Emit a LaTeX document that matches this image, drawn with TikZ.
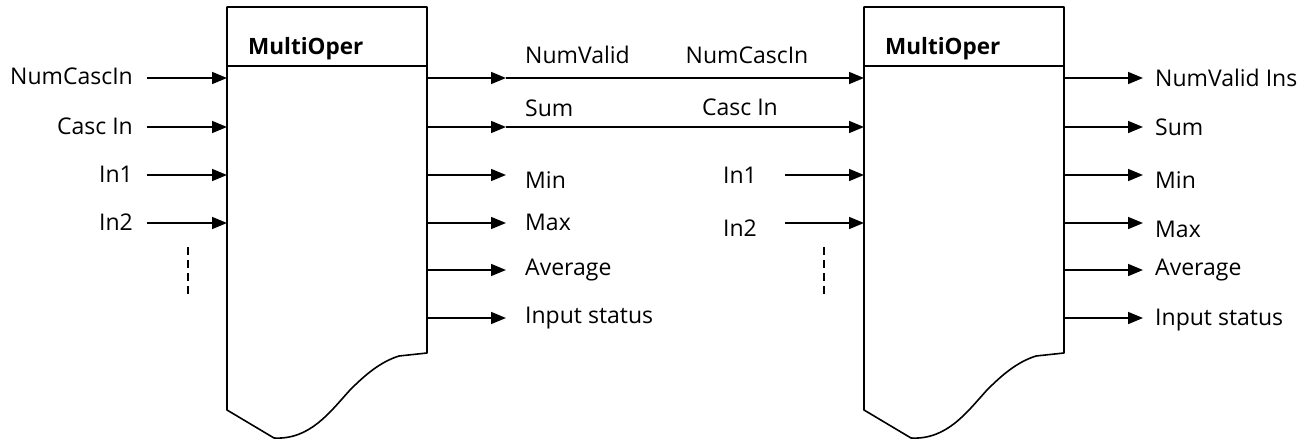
\documentclass[tikz,border=0pt]{standalone}
\usepackage{fontspec}
\setmainfont[Ligatures=NoCommon]{Open Sans}
\usetikzlibrary{arrows.meta}
\begin{document}
\begin{tikzpicture}[x=1pt,y=-1pt,
  blk/.style={line width=1.6pt,fill=white},
  conn/.style={line width=1.6pt,-{Triangle[length=15pt,width=12pt]}},
  plain/.style={line width=1.6pt},
  lbl/.style={font=\fontsize{23}{27}\selectfont,inner sep=0pt},
  ttl/.style={font=\fontsize{22.5}{27}\selectfont\bfseries,inner sep=0pt,anchor=base west},
  dots/.style={line width=1.2pt,dash pattern=on 8pt off 5pt}]
\useasboundingbox (0,0) rectangle (1312,442);
% blocks
\foreach \dx/\nm in {0/A,637/B}{
  \begin{scope}[xshift=\dx]
    \draw[blk,line join=round] (227,7) -- (427,7) -- (427,353) -- (399,356)
      .. controls (380,362) and (365,375) .. (350,390)
      .. controls (330,412) and (310,440) .. (274,438)
      -- (227,410) -- cycle;
    \draw[plain] (227,66) -- (427,66);
  \end{scope}
}
\node[ttl] (tA) at (248,54) {MultiOper};
\node[ttl] (tB) at (885,54) {MultiOper};
% ports of block A
\foreach \n/\y in {1/78,2/127,3/175,4/223}{
  \coordinate (Ai\n) at (227,\y);
  \coordinate (As\n) at (147,\y);
}
\foreach \n/\y in {1/78,2/127,3/175,4/223,5/270,6/318}{
  \coordinate (Ao\n) at (427,\y);
  \coordinate (At\n) at (506,\y);
}
% ports of block B
\foreach \n/\y in {1/78,2/127,3/175,4/223}{
  \coordinate (Bi\n) at (864,\y);
}
\coordinate (Bs3) at (785,175);
\coordinate (Bs4) at (785,223);
\foreach \n/\y in {1/78,2/127,3/175,4/223,5/270,6/318}{
  \coordinate (Bo\n) at (1064,\y);
  \coordinate (Bt\n) at (1143,\y);
}
% input labels A
\node[lbl,anchor=east] (lA1) at (133,76) {NumCascIn};
\node[lbl,anchor=east] (lA2) at (133,126) {Casc In};
\node[lbl,anchor=east] (lA3) at (133,174) {In1};
\node[lbl,anchor=east] (lA4) at (133,222) {In2};
\foreach \n in {1,2,3,4}{\draw[conn] (As\n) -- (Ai\n);}
\draw[dots] (188,247) -- (188,296);
% outputs A
\foreach \n in {1,...,6}{\draw[conn] (Ao\n) -- (At\n);}
\draw[conn] (At1) -- (Bi1);
\draw[conn] (At2) -- (Bi2);
\node[lbl,anchor=west] (oA1) at (525,55) {NumValid};
\node[lbl,anchor=west] (oA2) at (525,108) {Sum};
\node[lbl,anchor=west] (oA3) at (525,180) {Min};
\node[lbl,anchor=west] (oA4) at (525,222) {Max};
\node[lbl,anchor=west] (oA5) at (525,270) {Average};
\node[lbl,anchor=west] (oA6) at (525,318) {Input status};
% inputs B
\node[lbl] (lB1) at (747,55) {NumCascIn};
\node[lbl] (lB2) at (740,107) {Casc In};
\node[lbl] (lB3) at (740,175) {In1};
\node[lbl] (lB4) at (740,228) {In2};
\draw[conn] (Bs3) -- (Bi3);
\draw[conn] (Bs4) -- (Bi4);
\draw[dots] (824,247) -- (824,296);
% outputs B
\foreach \n in {1,...,6}{\draw[conn] (Bo\n) -- (Bt\n);}
\node[lbl,anchor=west] (oB1) at (1155,78) {NumValid Ins};
\node[lbl,anchor=west] (oB2) at (1155,127) {Sum};
\node[lbl,anchor=west] (oB3) at (1155,180) {Min};
\node[lbl,anchor=west] (oB4) at (1155,229) {Max};
\node[lbl,anchor=west] (oB5) at (1155,270) {Average};
\node[lbl,anchor=west] (oB6) at (1155,320) {Input status};
\end{tikzpicture}
\end{document}
